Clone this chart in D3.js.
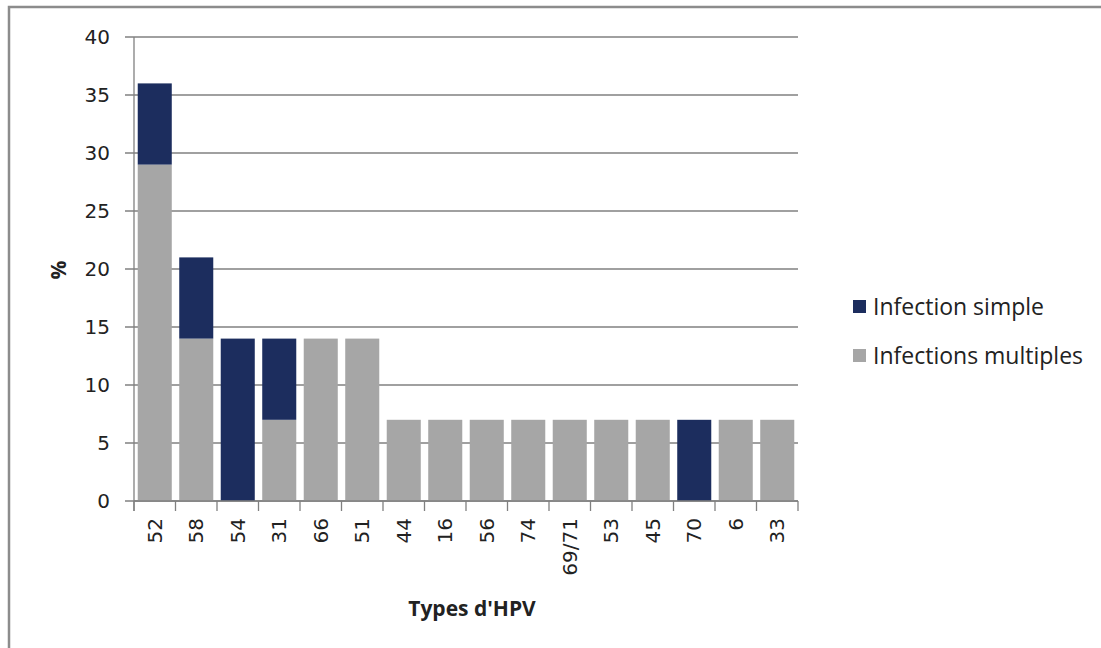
<!DOCTYPE html>
<html><head><meta charset="utf-8">
<script src="https://cdn.jsdelivr.net/npm/d3@7"></script>
<style>body{margin:0;background:#fff}svg{display:block}</style>
</head><body>
<svg id="c" width="1101" height="648"></svg>
<script>
const categories = ["52","58","54","31","66","51","44","16","56","74","69/71","53","45","70","6","33"];
const multiples = [29,14,0,7,14,14,7,7,7,7,7,7,7,0,7,7];
const simple    = [7,7,14,7,0,0,0,0,0,0,0,0,0,7,0,0];
const yTicks = [0,5,10,15,20,25,30,35,40];
const seriesNames = ["Infection simple","Infections multiples"];
const colors = {simple:"#1c2d5e", multiples:"#a6a6a6"};

const svg = d3.select("#c");
// frame
svg.append("path").attr("d","M9,648 V7 H1101").attr("fill","none").attr("stroke","#8c8c8c").attr("stroke-width",2.5);

const x0 = 134, x1 = 798, yTop = 37, yBot = 501;
const x = d3.scaleBand().domain(categories).range([x0,x1]).paddingInner(0.18).paddingOuter(0.09);
const y = d3.scaleLinear().domain([0,40]).range([yBot,yTop]);

// gridlines
svg.append("g").selectAll("line").data(yTicks).join("line")
  .attr("x1",125).attr("x2",x1).attr("y1",d=>y(d)).attr("y2",d=>y(d))
  .attr("stroke","#808080").attr("stroke-width",1.3);

// y axis line
svg.append("line").attr("x1",x0).attr("x2",x0).attr("y1",yTop).attr("y2",yBot+10).attr("stroke","#808080").attr("stroke-width",1.3);

// y labels
svg.append("g").selectAll("text").data(yTicks).join("text")
  .attr("x",110).attr("y",d=>y(d)).attr("dy","0.36em").attr("text-anchor","end")
  .attr("font-family","DejaVu Sans, Verdana, sans-serif").attr("font-size",20).attr("fill","#222")
  .text(d=>d);

// bars
const data = categories.map((c,i)=>({c, m:multiples[i], s:simple[i]}));
const g = svg.append("g");
g.selectAll("rect.m").data(data).join("rect").attr("class","m")
  .attr("x",d=>x(d.c)).attr("width",x.bandwidth())
  .attr("y",d=>y(d.m)).attr("height",d=>y(0)-y(d.m)).attr("fill",colors.multiples);
g.selectAll("rect.s").data(data).join("rect").attr("class","s")
  .attr("x",d=>x(d.c)).attr("width",x.bandwidth())
  .attr("y",d=>y(d.m+d.s)).attr("height",d=>y(d.m)-y(d.m+d.s)).attr("fill",colors.simple);

// x axis line and ticks
svg.append("line").attr("x1",x0).attr("x2",x1).attr("y1",yBot).attr("y2",yBot).attr("stroke","#808080").attr("stroke-width",1.5);
const tickXs = d3.range(categories.length+1).map(i=>x0 + i*(x1-x0)/categories.length);
svg.append("g").selectAll("line").data(tickXs).join("line")
  .attr("x1",d=>d).attr("x2",d=>d).attr("y1",yBot).attr("y2",yBot+10)
  .attr("stroke","#808080").attr("stroke-width",1.3);

// x labels rotated
svg.append("g").selectAll("text").data(categories).join("text")
  .attr("transform",d=>`translate(${x(d)+x.bandwidth()/2},518) rotate(-90)`)
  .attr("text-anchor","end").attr("dy","0.36em")
  .attr("font-family","DejaVu Sans, Verdana, sans-serif").attr("font-size",20).attr("fill","#222")
  .text(d=>d);

// axis titles
svg.append("text").attr("x",472).attr("y",616).attr("text-anchor","middle")
  .attr("font-family","Open Sans, sans-serif").attr("font-weight","bold").attr("font-size",21).attr("fill","#222")
  .text("Types d'HPV");
svg.append("text").attr("transform","translate(58,270) rotate(-90)").attr("text-anchor","middle").attr("dy","0.36em")
  .attr("font-family","Open Sans, sans-serif").attr("font-weight","bold").attr("font-size",21).attr("fill","#222")
  .text("%");

// legend
const leg = svg.append("g");
const legItems = [{n:seriesNames[0],c:colors.simple,y:307},{n:seriesNames[1],c:colors.multiples,y:356}];
leg.selectAll("rect").data(legItems).join("rect")
  .attr("x",853).attr("y",d=>d.y-7).attr("width",13).attr("height",13).attr("fill",d=>d.c);
leg.selectAll("text").data(legItems).join("text")
  .attr("x",873).attr("y",d=>d.y).attr("dy","0.36em")
  .attr("font-family","Open Sans, sans-serif").attr("font-size",23).attr("fill","#222")
  .text(d=>d.n);
</script>
</body></html>
